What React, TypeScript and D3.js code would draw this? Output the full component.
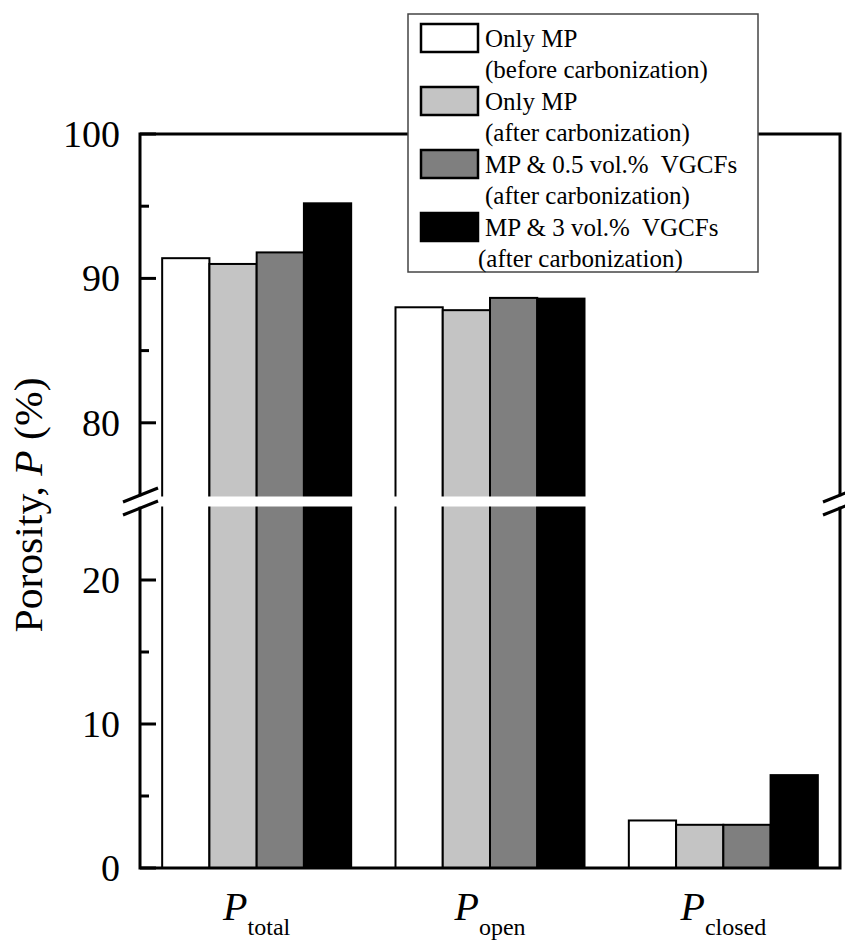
import React from 'react';
import * as d3 from 'd3';

// porosity components (x groups)
const categories = ['total', 'open', 'closed'];

// sample series, values (%)
const seriesNames = ['onlyMpBefore', 'onlyMpAfter', 'mp05', 'mp3'];
const onlyMpBefore = [91.4, 88.0, 3.3];
const onlyMpAfter = [91.0, 87.8, 3.0];
const mp05 = [91.8, 88.65, 3.0];
const mp3 = [95.2, 88.6, 6.45];

const legendLines = [
  ['Only MP', '(before carbonization)'],
  ['Only MP', '(after carbonization)'],
  ['MP & 0.5 vol.%  VGCFs', '(after carbonization)'],
  ['MP & 3 vol.%  VGCFs', '(after carbonization)'],
];

const majorTicks = [0, 10, 20, 80, 90, 100];
const minorTicks = [5, 15, 85, 95];

const fills = ['#ffffff', '#c4c4c4', '#7f7f7f', '#000000'];
const font = 'Times New Roman, Liberation Serif, DejaVu Serif, serif';

const App = () => {
  const left = 140, right = 840, top = 134, bottom = 868;
  const gapTop = 495, gapBottom = 508;

  // broken axis: 0-25 on the lower part, 75-100 on the upper part
  const y = d3.scaleLinear()
    .domain([0, 25, 75, 100])
    .range([bottom, gapBottom, gapTop, top]);

  const x0 = d3.scaleBand()
    .domain(categories)
    .range([left, right])
    .paddingInner(0.19)
    .paddingOuter(0.095);

  const x1 = d3.scaleBand()
    .domain(seriesNames)
    .range([0, x0.bandwidth()]);

  const series = [onlyMpBefore, onlyMpAfter, mp05, mp3];

  const slash = (cx: number, cy: number) =>
    `M${cx - 17},${cy + 7}L${cx + 18},${cy - 7}`;

  return (
    <svg width={845} height={944} fontFamily={font}
      style={{ position: 'absolute', left: 0, top: 0, background: '#fff' }}>
      {/* bars */}
      {categories.map((c, i) => (
        <g key={c} transform={`translate(${x0(c)},0)`}>
          {series.map((s, j) => (
            <rect key={j}
              x={x1(seriesNames[j])}
              y={y(s[i])}
              width={x1.bandwidth()}
              height={bottom - y(s[i])}
              fill={fills[j]}
              stroke="#000"
              strokeWidth={2} />
          ))}
        </g>
      ))}

      {/* frame */}
      <g stroke="#000" strokeWidth={3} fill="none" strokeLinecap="square">
        <path d={`M${left},${gapTop}V${top}H${right}V${gapTop}`} />
        <path d={`M${left},${gapBottom}V${bottom}H${right}V${gapBottom}`} />
      </g>

      {/* y ticks, pointing inwards */}
      <g stroke="#000" strokeWidth={3}>
        {majorTicks.map(t => (
          <line key={t} x1={left} x2={left + 16} y1={y(t)} y2={y(t)} />
        ))}
        {minorTicks.map(t => (
          <line key={t} x1={left} x2={left + 9} y1={y(t)} y2={y(t)} />
        ))}
      </g>
      <g fontSize={38} textAnchor="end">
        {majorTicks.map(t => (
          <text key={t} x={120} y={y(t)} dy="0.34em" fontFamily={font}>{t}</text>
        ))}
      </g>

      {/* axis break */}
      <rect x={left - 2} y={gapTop + 1.5} width={right - left + 4} height={gapBottom - gapTop - 3} fill="#fff" />
      <g stroke="#000" strokeWidth={3} fill="none">
        <path d={slash(left, gapTop)} />
        <path d={slash(left, gapBottom)} />
        <path d={slash(right, gapTop)} />
        <path d={slash(right, gapBottom)} />
      </g>

      {/* x labels */}
      {categories.map(c => (
        <text key={c} x={x0(c)! + x0.bandwidth() / 2} y={920} textAnchor="middle" fontFamily={font}>
          <tspan fontSize={40} fontStyle="italic">P</tspan>
          <tspan fontSize={24} dy={15}>{c}</tspan>
        </text>
      ))}

      {/* y label */}
      <text transform="translate(42,505) rotate(-90)" textAnchor="middle" fontSize={40} fontFamily={font}
        textLength={255} lengthAdjust="spacingAndGlyphs">
        Porosity, <tspan fontStyle="italic">P</tspan> (%)
      </text>

      {/* legend */}
      <g fontFamily={font}>
        <rect x={408} y={14} width={350} height={258} fill="#fff" stroke="#444" strokeWidth={1.5} />
        {legendLines.map((lines, i) => (
          <g key={i} transform={`translate(0,${24 + i * 63})`}>
            <rect x={421} y={0} width={57} height={28} fill={fills[i]} stroke="#000" strokeWidth={2.5} />
            <text x={485} y={23} fontSize={25} style={{ whiteSpace: 'pre' }}>{lines[0]}</text>
            <text x={i === 3 ? 478 : 485} y={54} fontSize={25}>{lines[1]}</text>
          </g>
        ))}
      </g>
    </svg>
  );
};

export default App;
